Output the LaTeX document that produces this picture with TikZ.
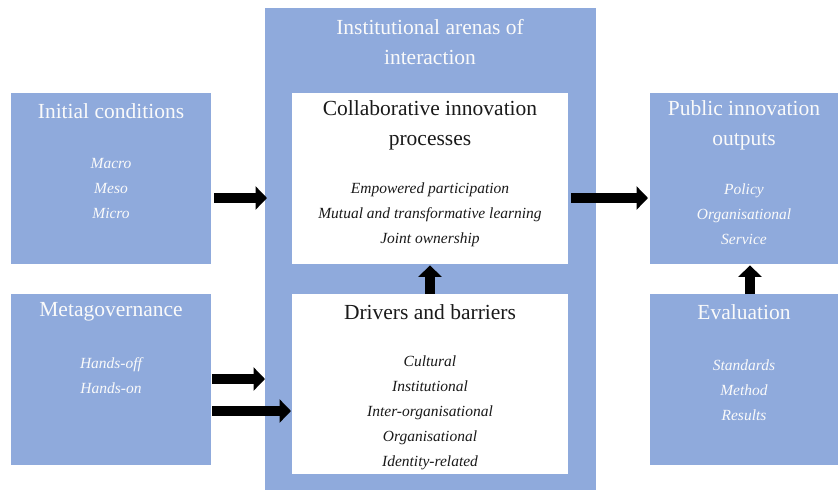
\documentclass[tikz,border=0pt]{standalone}
\usepackage{fontspec}
\setmainfont{Liberation Serif}
\usetikzlibrary{arrows.meta,calc}
\definecolor{boxblue}{HTML}{8FAADC}
\definecolor{inkdark}{HTML}{1A1A1A}
\definecolor{inklight}{HTML}{FAFAFA}
\begin{document}
\begin{tikzpicture}[x=1pt,y=-1pt,
  bluebox/.style={fill=boxblue,draw=none,anchor=north west,inner sep=0pt},
  whitebox/.style={fill=white,draw=none,anchor=north west,inner sep=0pt},
  titletext/.style={align=center,inner sep=0pt,font=\fontsize{21.5}{30}\selectfont},
  itemtext/.style={align=center,inner sep=0pt,font=\fontsize{15.5}{25}\selectfont\itshape},
  onblue/.style={text=inklight},
  onwhite/.style={text=inkdark},
  blockarrow/.style={draw=black,line width=10.5pt,-{Triangle[length=11.5pt,width=23pt]}}]
  \useasboundingbox (0,0) rectangle (838,491);

  % boxes
  \node[bluebox,minimum width=200pt,minimum height=171pt] (init) at (11,93) {};
  \node[bluebox,minimum width=200pt,minimum height=171pt] (meta) at (11,294) {};
  \node[bluebox,minimum width=331pt,minimum height=482pt] (arena) at (265,8) {};
  \node[whitebox,minimum width=276pt,minimum height=171pt] (collab) at (292,93) {};
  \node[whitebox,minimum width=276pt,minimum height=180pt] (drivers) at (292,294) {};
  \node[bluebox,minimum width=188pt,minimum height=171pt] (output) at (650,93) {};
  \node[bluebox,minimum width=188pt,minimum height=171pt] (eval) at (650,294) {};

  % titles
  \node[titletext,onblue] (arenaT) at (430,42.5) {Institutional arenas of\\interaction};
  \node[titletext,onblue] (initT) at (111,111) {Initial conditions};
  \node[titletext,onwhite] (collabT) at (430,125.5) {Collaborative innovation\\processes};
  \node[titletext,onblue] (outputT) at (744,125) {Public innovation\\outputs};
  \node[titletext,onblue] (metaT) at (111,312) {Metagovernance};
  \node[titletext,onwhite] (driversT) at (430,312) {Drivers and barriers};
  \node[titletext,onblue] (evalT) at (744,312) {Evaluation};

  % item lists
  \node[itemtext,onblue] (initI) at (111,188.5) {Macro\\Meso\\Micro};
  \node[itemtext,onwhite] (collabI) at (430,214.5) {Empowered participation\\Mutual and transformative learning\\Joint ownership};
  \node[itemtext,onblue] (outputI) at (744,214) {Policy\\Organisational\\Service};
  \node[itemtext,onblue] (metaI) at (111,376) {Hands-off\\Hands-on};
  \node[itemtext,onwhite] (driversI) at (430,413) {Cultural\\Institutional\\Inter-organisational\\Organisational\\Identity-related};
  \node[itemtext,onblue] (evalI) at (744,390) {Standards\\Method\\Results};

  % connectors
  \draw[blockarrow] ($(init.east |- 0,198)+(3,0)$) -- ($(arena.west |- 0,198)+(2,0)$);
  \draw[blockarrow] ($(meta.east |- 0,379)+(1,0)$) -- ($(arena.west |- 0,379)$);
  \draw[blockarrow] ($(meta.east |- 0,411)+(1,0)$) -- ($(drivers.west |- 0,411)+(-1,0)$);
  \draw[blockarrow] ($(collab.east |- 0,198)+(3,0)$) -- ($(output.west |- 0,198)+(-2,0)$);
  \draw[blockarrow] (drivers.north -| 430,0) -- ($(collab.south -| 430,0)+(0,1)$);
  \draw[blockarrow] (eval.north -| 750,0) -- ($(output.south -| 750,0)+(0,1)$);
\end{tikzpicture}
\end{document}
